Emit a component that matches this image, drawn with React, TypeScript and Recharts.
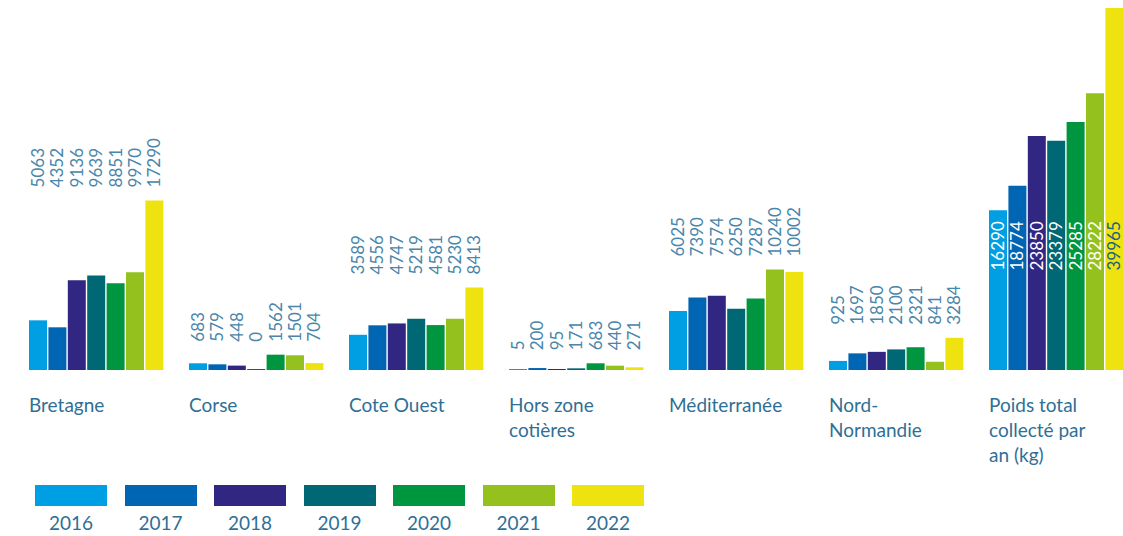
import { BarChart, Bar, XAxis, YAxis, LabelList } from 'recharts';

const categories = [
  ['Bretagne'],
  ['Corse'],
  ['Cote Ouest'],
  ['Hors zone', 'cotières'],
  ['Méditerranée'],
  ['Nord-', 'Normandie'],
  ['Poids total', 'collecté par', 'an (kg)'],
];

const years = ['2016', '2017', '2018', '2019', '2020', '2021', '2022'];

const values2016 = [5063, 683, 3589, 5, 6025, 925, 16290];
const values2017 = [4352, 579, 4556, 200, 7390, 1697, 18774];
const values2018 = [9136, 448, 4747, 95, 7574, 1850, 23850];
const values2019 = [9639, 0, 5219, 171, 6250, 2100, 23379];
const values2020 = [8851, 1562, 4581, 683, 7287, 2321, 25285];
const values2021 = [9970, 1501, 5230, 440, 10240, 841, 28222];
const values2022 = [17290, 704, 8413, 271, 10002, 3284, 39965];

const colors = ['#009fe3', '#0066b3', '#312783', '#006775', '#009640', '#95c11f', '#efe30f'];

const series = [values2016, values2017, values2018, values2019, values2020, values2021, values2022];

const TEXT = '#2f6f95';
const LABEL = '#4a86aa';
const FONT = 'Lato, "Open Sans", sans-serif';

const CHART_W = 1150;
const CHART_H = 536;
const MARGIN = { top: 8, right: 14, left: 16, bottom: 0 };
const AXIS_H = 166;
const Y_MAX = 36900;
const PLOT_H = CHART_H - MARGIN.top - MARGIN.bottom - AXIS_H;
const PX_PER_UNIT = PLOT_H / Y_MAX;

const rows = categories.map((lines, i) => {
  const row: any = { name: lines.join(' ') };
  const vals = series.map((s) => s[i]);
  years.forEach((y, j) => {
    row[y] = vals[j];
  });
  row.max = Math.max(...vals);
  row.min = Math.min(...vals);
  return row;
});

const lastIndex = categories.length - 1;

// vertical value labels: above the tallest bar of the group, or inside for the totals
function makeLabel(yearIdx: number) {
  return (props: any) => {
    const { x, y, width, height, value, index } = props;
    const row = rows[index];
    if (!row) return null;
    const base = Number(y) + Number(height);
    const cx = Number(x) + Number(width) / 2 + 6;
    if (index === lastIndex) {
      const ly = base - row.min * PX_PER_UNIT + 11;
      return (
        <text
          x={cx}
          y={ly}
          transform={`rotate(-90 ${cx} ${ly})`}
          textAnchor="end"
          fontSize={17}
          fontFamily={FONT}
          fill={yearIdx === years.length - 1 ? '#1b5e86' : '#ffffff'}
        >
          {value}
        </text>
      );
    }
    const ly = base - row.max * PX_PER_UNIT - 13;
    return (
      <text
        x={cx}
        y={ly}
        transform={`rotate(-90 ${cx} ${ly})`}
        textAnchor="start"
        fontSize={17}
        fontFamily={FONT}
        fill={LABEL}
      >
        {value}
      </text>
    );
  };
}

const CategoryTick = (props: any) => {
  const { x, y, index } = props;
  const lines = categories[index] || [];
  return (
    <text x={x - 67} y={y + 34} fontSize={19} fontFamily={FONT} fill={TEXT} textAnchor="start">
      {lines.map((l, i) => (
        <tspan key={i} x={x - 67} dy={i === 0 ? 0 : 25}>
          {l}
        </tspan>
      ))}
    </text>
  );
};

export default function App() {
  return (
    <div
      style={{
        position: 'absolute',
        left: 0,
        top: 0,
        width: 1123,
        height: 536,
        overflow: 'hidden',
        background: '#ffffff',
      }}
    >
      <BarChart
        width={CHART_W}
        height={CHART_H}
        data={rows}
        margin={MARGIN}
        barGap={1.4}
        barCategoryGap={13}
      >
        <XAxis
          dataKey="name"
          axisLine={false}
          tickLine={false}
          height={AXIS_H}
          interval={0}
          tick={<CategoryTick />}
        />
        <YAxis hide domain={[0, Y_MAX]} allowDataOverflow />
        {years.map((yr, j) => (
          <Bar
            key={yr}
            dataKey={yr}
            fill={colors[j]}
            minPointSize={1}
            isAnimationActive={false}
          >
            <LabelList dataKey={yr} content={makeLabel(j)} />
          </Bar>
        ))}
      </BarChart>

      {/* legend */}
      <div style={{ position: 'absolute', left: 35, top: 485, display: 'flex', gap: 17.5 }}>
        {years.map((yr, j) => (
          <div key={yr} style={{ width: 72, textAlign: 'center' }}>
            <div style={{ width: 72, height: 21, background: colors[j] }} />
            <div
              style={{
                fontFamily: FONT,
                fontSize: 19,
                color: TEXT,
                marginTop: 6,
                lineHeight: '22px',
              }}
            >
              {yr}
            </div>
          </div>
        ))}
      </div>
    </div>
  );
}
